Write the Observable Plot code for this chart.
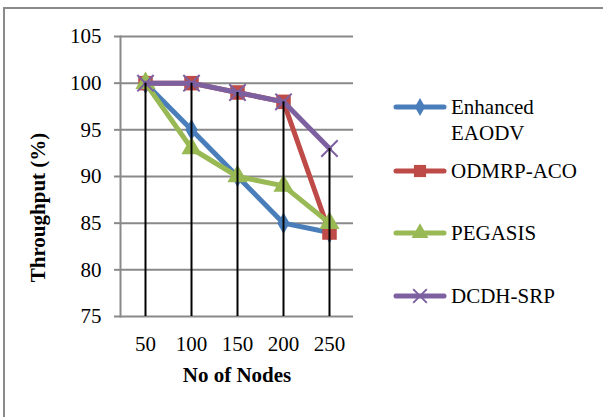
<!DOCTYPE html>
<html>
<head>
<meta charset="utf-8">
<script src="https://cdn.jsdelivr.net/npm/d3@7"></script>
<script src="https://cdn.jsdelivr.net/npm/@observablehq/plot@0.6"></script>
<style>
  html, body { margin: 0; padding: 0; background: #fff; overflow: hidden; }
  #wrap { position: relative; width: 603px; height: 417px; overflow: hidden; }
  #border { position: absolute; left: 3px; top: 7px; width: 700px; height: 500px; border: 2px solid #8a8a8a; box-sizing: border-box; }
  #chart { position: absolute; left: 0; top: 0; }
  #legend { position: absolute; left: 0; top: 0; }
  svg text { font-family: "Liberation Serif", "Times New Roman", serif; }
</style>
</head>
<body>
<div id="wrap">
  <div id="border"></div>
  <div id="chart"></div>
  <div id="legend"></div>
</div>
<script>
const nodes = ["50", "100", "150", "200", "250"];
const enhancedEAODV = [100, 95, 90, 85, 84];
const odmrpACO = [100, 100, 99, 98, 84];
const pegasis = [100, 93, 90, 89, 85];
const dcdhSRP = [100, 100, 99, 98, 93];
const yTicks = [75, 80, 85, 90, 95, 100, 105];
const seriesNames = ["Enhanced EAODV", "ODMRP-ACO", "PEGASIS", "DCDH-SRP"];
const legendLabels = [["Enhanced", "EAODV"], ["ODMRP-ACO"], ["PEGASIS"], ["DCDH-SRP"]];

const seriesValues = [enhancedEAODV, odmrpACO, pegasis, dcdhSRP];
const colors = ["#4a7ebb", "#be4b48", "#98b954", "#7d60a0"];
const symbols = ["diamond", "square", "triangle", "times"];
const radii = [6.5, 8.2, 7.5, 7.5];

const rows = [];
seriesNames.forEach((s, i) => nodes.forEach((n, j) => rows.push({series: s, idx: i, nodes: n, value: seriesValues[i][j]})));
const tops = nodes.map((n, j) => ({nodes: n, top: d3.max(seriesValues, v => v[j])}));

const font = "'Liberation Serif', 'Times New Roman', serif";
const marks = [
  Plot.ruleY(yTicks, {stroke: "#898989", strokeWidth: 2}),
  Plot.axisY({ticks: yTicks, tickSize: 6, tickPadding: 13, stroke: "#898989", strokeWidth: 2, fill: "#000", fontSize: 21, fontFamily: font, label: null, tickFormat: d => String(d)}),
  Plot.axisX({tickSize: 0, tickPadding: 20, fill: "#000", fontSize: 21, fontFamily: font, label: null}),
  Plot.frame({anchor: "left", stroke: "#898989", strokeWidth: 2}),
];
seriesNames.forEach((s, i) => {
  const data = rows.filter(r => r.idx === i);
  marks.push(Plot.line(data, {x: "nodes", y: "value", stroke: colors[i], strokeWidth: 5, strokeLinejoin: "round", strokeLinecap: "round"}));
  if (symbols[i] === "times") {
    marks.push(Plot.dot(data, {x: "nodes", y: "value", symbol: "times", r: radii[i], stroke: colors[i], strokeWidth: 2, fill: "none"}));
  } else {
    marks.push(Plot.dot(data, {x: "nodes", y: "value", symbol: symbols[i], r: radii[i], fill: colors[i], stroke: "none"}));
  }
});
marks.push(Plot.ruleX(tops, {x: "nodes", y1: 75, y2: "top", stroke: "#000", strokeWidth: 2}));
marks.push(Plot.text(["Throughput (%)"], {frameAnchor: "left", textAnchor: "middle", lineAnchor: "middle", dx: -82, dy: 31, rotate: -90, fontSize: 21, fontWeight: "bold", fontFamily: font, fill: "#000"}));
marks.push(Plot.text(["No of Nodes"], {frameAnchor: "bottom", textAnchor: "middle", lineAnchor: "middle", dy: 59, fontSize: 21, fontWeight: "bold", fontFamily: font, fill: "#000"}));

const plot = Plot.plot({
  width: 603,
  height: 417,
  marginLeft: 120,
  marginRight: 250,
  marginTop: 36,
  marginBottom: 101,
  style: {background: "transparent", fontFamily: font},
  x: {type: "point", domain: nodes, padding: 0.5},
  y: {domain: [75, 105]},
  marks
});
document.getElementById("chart").appendChild(plot);

// legend
const lsvg = d3.select("#legend").append("svg").attr("width", 603).attr("height", 417);
const legendY = [107, 171, 233, 296];
seriesNames.forEach((s, i) => {
  const g = lsvg.append("g").attr("transform", `translate(0,${legendY[i]})`);
  g.append("line").attr("x1", 396).attr("x2", 444).attr("y1", 0).attr("y2", 0)
    .attr("stroke", colors[i]).attr("stroke-width", 5).attr("stroke-linecap", "round");
  const sym = {diamond: d3.symbolDiamond, square: d3.symbolSquare, triangle: d3.symbolTriangle, times: d3.symbolTimes}[symbols[i]];
  const p = g.append("path").attr("transform", "translate(420,0)")
    .attr("d", d3.symbol(sym, Math.PI * radii[i] * radii[i] * 0.7)());
  if (symbols[i] === "times") p.attr("fill", "none").attr("stroke", colors[i]).attr("stroke-width", 2);
  else p.attr("fill", colors[i]);
  legendLabels[i].forEach((t, k) => {
    g.append("text").attr("x", 451).attr("y", k * 26).attr("dy", "0.35em")
      .style("font-family", font).attr("font-size", 21).attr("fill", "#000").text(t);
  });
});
</script>
</body>
</html>
